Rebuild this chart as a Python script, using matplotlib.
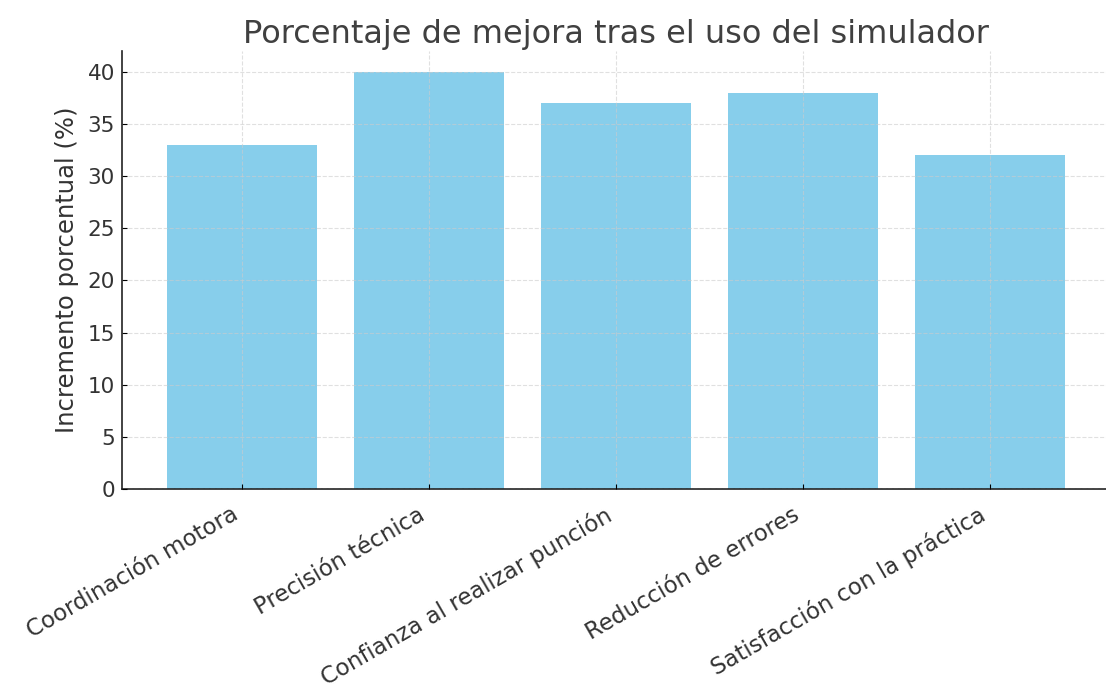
import numpy as np
import matplotlib
matplotlib.use("Agg")
import matplotlib.pyplot as plt

# datos
categorias = ["Coordinación motora", "Precisión técnica", "Confianza al realizar punción",
              "Reducción de errores", "Satisfacción con la práctica"]
mejora = [33, 40, 37, 38, 32]
yticks = [0, 5, 10, 15, 20, 25, 30, 35, 40]

plt.rcParams['font.family'] = ['DejaVu Sans']
texto = "#333333"

fig = plt.figure(figsize=(11.06, 6.88), dpi=100)
ax = fig.add_axes([122/1106, 1 - 489/688, (1110 - 122)/1106, (489 - 51)/688])

ax.bar(categorias, mejora, width=0.8, color="skyblue", zorder=2)
ax.grid(True, color="#cccccc", linestyle="--", linewidth=0.8, alpha=0.6, zorder=3)
ax.set_axisbelow(False)

ax.set_yticks(yticks)
ax.set_ylim(0, 42)
ax.set_xlim(-0.64, 4.64)

ax.set_title("Porcentaje de mejora tras el uso del simulador", fontsize=23, color="#404040", pad=6)
ax.set_ylabel("Incremento porcentual (%)", fontsize=17.5, color=texto, labelpad=6)
plt.setp(ax.get_xticklabels(), rotation=30, ha="right")
ax.tick_params(axis="x", direction="in", labelsize=16.5, labelcolor=texto, pad=10)
ax.tick_params(axis="y", direction="in", labelsize=15.5, labelcolor=texto, pad=5)

for s in ["top", "right"]:
    ax.spines[s].set_visible(False)
for s in ["left", "bottom"]:
    ax.spines[s].set_color("#222222")
    ax.spines[s].set_linewidth(1.2)

fig.savefig("out.png", dpi=100)
